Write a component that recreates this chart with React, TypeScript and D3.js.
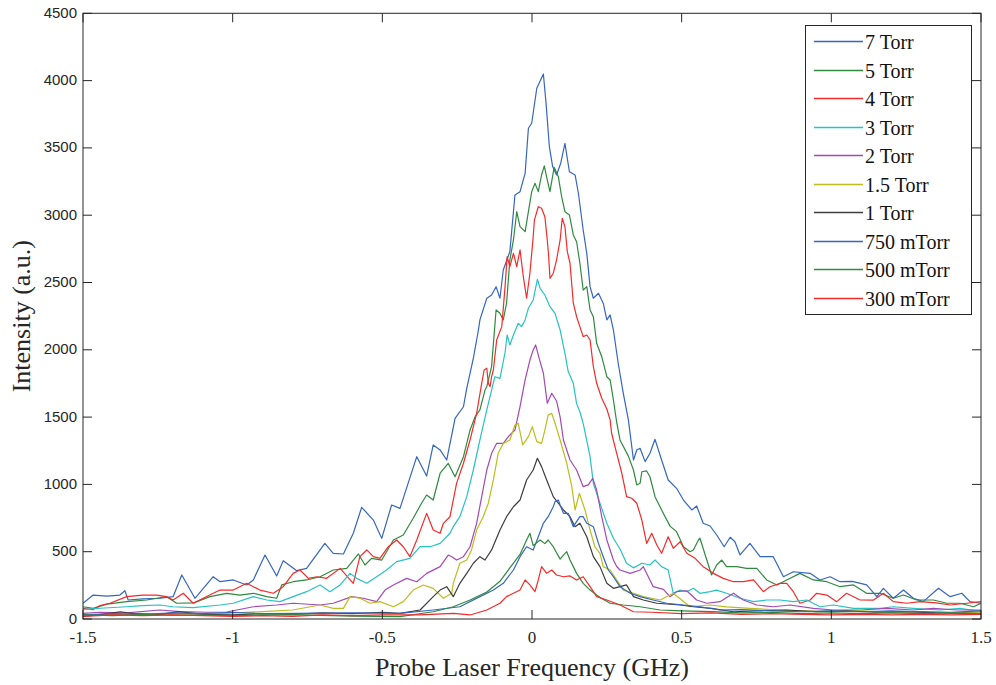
import React from "react";
import * as d3 from "d3";

type P = [number, number];

const xTicks = [-1.5, -1, -0.5, 0, 0.5, 1, 1.5];
const xTickLabels = ["-1.5", "-1", "-0.5", "0", "0.5", "1", "1.5"];
const yTicks = [0, 500, 1000, 1500, 2000, 2500, 3000, 3500, 4000, 4500];

const seriesNames = ["7 Torr", "5 Torr", "4 Torr", "3 Torr", "2 Torr", "1.5 Torr", "1 Torr", "750 mTorr", "500 mTorr", "300 mTorr"];
const seriesColors = ["#3566c0", "#2f8a3f", "#f52a2a", "#27c2c2", "#a349b5", "#bdbd1c", "#3d3d3d", "#3566c0", "#2f8a3f", "#f52a2a"];

const torr7: P[] = [[-1.5,117],[-1.466,178],[-1.42,170],[-1.377,178],[-1.36,210],[-1.349,141],[-1.3,150],[-1.243,154],[-1.199,166],[-1.17,327],[-1.126,154],[-1.065,314],[-1.042,277],[-0.998,290],[-0.953,253],[-0.931,290],[-0.892,475],[-0.853,320],[-0.831,433],[-0.786,359],[-0.753,376],[-0.692,562],[-0.664,488],[-0.63,483],[-0.597,637],[-0.569,830],[-0.53,735],[-0.502,599],[-0.469,847],[-0.441,822],[-0.385,1206],[-0.352,1062],[-0.33,1293],[-0.307,1256],[-0.285,1181],[-0.257,1491],[-0.229,1577],[-0.218,1714],[-0.196,1937],[-0.179,2147],[-0.174,2222],[-0.151,2383],[-0.135,2407],[-0.12,2469],[-0.107,2383],[-0.096,2593],[-0.074,2729],[-0.057,3150],[-0.04,3175],[-0.023,3311],[-0.012,3646],[-0.001,3683],[0.016,3943],[0.038,4049],[0.047,3831],[0.058,3509],[0.069,3361],[0.082,3299],[0.096,3386],[0.11,3534],[0.125,3323],[0.144,3299],[0.155,3163],[0.171,2890],[0.183,2717],[0.194,2469],[0.205,2383],[0.222,2420],[0.238,2346],[0.25,2222],[0.261,2259],[0.272,2147],[0.288,1900],[0.305,1677],[0.322,1479],[0.339,1181],[0.35,1256],[0.361,1268],[0.378,1169],[0.394,1231],[0.411,1335],[0.433,1181],[0.455,1033],[0.483,971],[0.506,884],[0.534,810],[0.55,840],[0.572,711],[0.595,691],[0.617,624],[0.642,537],[0.662,607],[0.678,574],[0.695,476],[0.728,562],[0.762,463],[0.806,463],[0.84,314],[0.873,351],[0.929,339],[0.962,290],[0.996,314],[1.029,277],[1.07,280],[1.118,253],[1.152,166],[1.174,228],[1.207,154],[1.241,215],[1.274,154],[1.307,129],[1.358,228],[1.397,166],[1.436,191],[1.463,129],[1.5,117]];

const torr5: P[] = [[-1.5,91],[-1.466,79],[-1.42,110],[-1.354,129],[-1.287,141],[-1.221,166],[-1.187,117],[-1.13,120],[-1.076,166],[-1.02,191],[-0.976,178],[-0.931,191],[-0.886,166],[-0.853,154],[-0.836,253],[-0.798,277],[-0.753,290],[-0.708,314],[-0.664,364],[-0.619,376],[-0.58,483],[-0.558,401],[-0.536,451],[-0.502,438],[-0.463,587],[-0.43,624],[-0.397,748],[-0.369,860],[-0.352,921],[-0.33,884],[-0.307,1083],[-0.28,1157],[-0.257,1057],[-0.229,1206],[-0.207,1404],[-0.19,1503],[-0.174,1553],[-0.157,1701],[-0.151,1726],[-0.135,1875],[-0.12,2296],[-0.107,2271],[-0.096,2222],[-0.085,2346],[-0.074,2667],[-0.062,2816],[-0.051,3026],[-0.04,2915],[-0.023,2878],[-0.012,3026],[-0.001,3175],[0.01,3237],[0.021,3175],[0.032,3299],[0.041,3366],[0.051,3262],[0.06,3175],[0.074,3356],[0.088,3286],[0.099,3138],[0.11,3026],[0.125,3002],[0.138,2853],[0.149,2803],[0.16,2643],[0.171,2444],[0.183,2469],[0.194,2296],[0.205,2246],[0.216,2048],[0.233,1949],[0.25,1800],[0.261,1776],[0.272,1627],[0.283,1460],[0.294,1330],[0.322,1210],[0.339,1107],[0.35,996],[0.361,1008],[0.367,1094],[0.383,1100],[0.394,1057],[0.411,909],[0.433,810],[0.461,690],[0.483,649],[0.506,537],[0.528,500],[0.539,513],[0.556,587],[0.561,600],[0.584,438],[0.6,327],[0.617,401],[0.634,438],[0.65,389],[0.684,389],[0.717,376],[0.751,376],[0.784,290],[0.818,253],[0.851,290],[0.895,339],[0.94,290],[0.985,277],[1.029,240],[1.074,253],[1.118,191],[1.163,191],[1.207,154],[1.241,178],[1.285,141],[1.341,141],[1.386,117],[1.43,117],[1.475,91],[1.5,117]];

const torr4: P[] = [[-1.5,79],[-1.466,70],[-1.443,100],[-1.41,117],[-1.354,166],[-1.3,178],[-1.254,178],[-1.221,166],[-1.199,141],[-1.165,191],[-1.132,117],[-1.065,191],[-1.042,215],[-0.998,215],[-0.953,265],[-0.909,215],[-0.864,191],[-0.831,240],[-0.798,339],[-0.775,364],[-0.747,302],[-0.719,314],[-0.686,302],[-0.641,376],[-0.597,265],[-0.575,463],[-0.552,513],[-0.53,463],[-0.508,451],[-0.48,537],[-0.452,587],[-0.43,537],[-0.408,463],[-0.385,587],[-0.352,785],[-0.33,661],[-0.307,637],[-0.296,711],[-0.274,760],[-0.252,1008],[-0.229,1157],[-0.207,1330],[-0.185,1528],[-0.168,1751],[-0.16,1850],[-0.151,1863],[-0.146,1751],[-0.14,1726],[-0.135,1800],[-0.129,1850],[-0.118,2073],[-0.101,2172],[-0.09,2469],[-0.083,2692],[-0.074,2618],[-0.062,2717],[-0.051,2618],[-0.04,2742],[-0.029,2543],[-0.018,2383],[-0.007,2569],[0.004,2840],[0.008,2964],[0.021,3063],[0.032,3051],[0.043,2989],[0.051,2816],[0.055,2717],[0.06,2531],[0.071,2569],[0.082,2667],[0.094,2816],[0.101,2977],[0.11,2915],[0.118,2729],[0.127,2643],[0.138,2346],[0.149,2246],[0.16,2172],[0.171,2098],[0.183,2110],[0.194,2073],[0.205,1875],[0.216,1751],[0.233,1640],[0.25,1560],[0.261,1479],[0.266,1380],[0.283,1231],[0.3,1083],[0.316,909],[0.333,897],[0.35,860],[0.367,735],[0.383,562],[0.4,637],[0.417,550],[0.433,488],[0.455,611],[0.472,525],[0.495,574],[0.517,488],[0.545,451],[0.572,389],[0.606,339],[0.639,302],[0.673,277],[0.706,277],[0.74,290],[0.773,203],[0.795,240],[0.829,265],[0.851,265],[0.873,203],[0.895,117],[0.929,141],[0.951,191],[0.985,178],[1.018,129],[1.051,191],[1.096,141],[1.14,140],[1.174,191],[1.207,129],[1.252,117],[1.296,129],[1.35,120],[1.397,104],[1.452,117],[1.5,129]];

const torr3: P[] = [[-1.5,72],[-1.443,80],[-1.354,91],[-1.3,100],[-1.243,104],[-1.2,91],[-1.132,85],[-1.042,104],[-0.998,117],[-0.931,166],[-0.886,141],[-0.842,129],[-0.798,166],[-0.753,203],[-0.708,253],[-0.675,203],[-0.641,253],[-0.608,339],[-0.586,302],[-0.552,265],[-0.519,314],[-0.486,364],[-0.452,426],[-0.408,451],[-0.374,537],[-0.341,537],[-0.307,562],[-0.274,637],[-0.263,686],[-0.241,760],[-0.218,909],[-0.196,1107],[-0.174,1330],[-0.151,1553],[-0.135,1700],[-0.124,1800],[-0.107,1788],[-0.09,1980],[-0.083,2110],[-0.074,2036],[-0.062,2110],[-0.046,2197],[-0.035,2172],[-0.023,2222],[-0.012,2309],[0.004,2370],[0.018,2524],[0.027,2457],[0.043,2407],[0.06,2320],[0.077,2271],[0.094,2147],[0.11,1974],[0.121,1838],[0.138,1751],[0.149,1600],[0.16,1540],[0.171,1454],[0.194,1206],[0.205,1008],[0.227,860],[0.25,711],[0.272,600],[0.294,520],[0.316,414],[0.339,380],[0.367,414],[0.394,401],[0.411,438],[0.433,389],[0.455,364],[0.472,191],[0.495,215],[0.517,203],[0.539,228],[0.561,191],[0.595,203],[0.617,215],[0.65,191],[0.695,154],[0.74,129],[0.784,141],[0.829,141],[0.873,129],[0.918,141],[0.962,91],[1.007,104],[1.074,79],[1.163,79],[1.207,91],[1.274,79],[1.363,67],[1.43,79],[1.5,54]];

const torr2: P[] = [[-1.5,42],[-1.443,50],[-1.354,45],[-1.243,67],[-1.176,55],[-1.087,50],[-1.02,52],[-0.931,91],[-0.853,104],[-0.798,117],[-0.708,104],[-0.664,117],[-0.602,166],[-0.564,154],[-0.519,129],[-0.491,215],[-0.463,253],[-0.419,302],[-0.385,277],[-0.352,339],[-0.307,389],[-0.28,475],[-0.268,463],[-0.252,438],[-0.229,463],[-0.207,537],[-0.185,711],[-0.168,909],[-0.151,1107],[-0.135,1231],[-0.118,1305],[-0.096,1305],[-0.079,1355],[-0.057,1404],[-0.04,1577],[-0.023,1776],[-0.007,1924],[0.004,1999],[0.012,2036],[0.027,1912],[0.038,1826],[0.051,1603],[0.066,1677],[0.082,1620],[0.094,1500],[0.105,1330],[0.127,1181],[0.149,1107],[0.171,983],[0.188,996],[0.203,1045],[0.216,958],[0.233,760],[0.25,587],[0.272,438],[0.283,390],[0.294,364],[0.328,339],[0.361,364],[0.372,389],[0.405,240],[0.439,220],[0.461,166],[0.483,203],[0.517,210],[0.55,141],[0.584,117],[0.628,129],[0.673,191],[0.706,141],[0.751,104],[0.806,91],[0.862,104],[0.94,79],[1.007,67],[1.1,67],[1.185,79],[1.274,67],[1.341,79],[1.42,67],[1.5,67]];

const torr15: P[] = [[-1.5,30],[-1.4,35],[-1.3,40],[-1.2,38],[-1.02,42],[-0.9,55],[-0.8,67],[-0.708,104],[-0.664,79],[-0.63,79],[-0.608,166],[-0.575,154],[-0.541,117],[-0.508,129],[-0.463,91],[-0.43,129],[-0.397,215],[-0.363,253],[-0.33,228],[-0.296,154],[-0.268,191],[-0.263,265],[-0.241,414],[-0.218,438],[-0.202,513],[-0.185,661],[-0.163,760],[-0.146,860],[-0.129,1033],[-0.113,1231],[-0.096,1305],[-0.074,1330],[-0.057,1441],[-0.046,1454],[-0.031,1293],[-0.012,1355],[0.001,1429],[0.016,1318],[0.032,1305],[0.043,1404],[0.054,1516],[0.066,1528],[0.077,1454],[0.094,1330],[0.116,1157],[0.133,983],[0.144,810],[0.158,934],[0.177,810],[0.194,661],[0.21,537],[0.227,488],[0.238,389],[0.261,364],[0.283,290],[0.305,215],[0.339,191],[0.372,166],[0.428,141],[0.472,191],[0.528,91],[0.595,104],[0.65,90],[0.728,79],[0.8,70],[0.9,60],[1.0,55],[1.1,60],[1.2,50],[1.3,55],[1.4,45],[1.5,50]];

const torr1: P[] = [[-1.5,20],[-1.45,30],[-1.376,54],[-1.33,40],[-1.25,30],[-1.18,55],[-1.1,35],[-1.0,30],[-0.9,40],[-0.8,35],[-0.7,45],[-0.6,40],[-0.5,50],[-0.441,42],[-0.374,67],[-0.33,166],[-0.307,215],[-0.285,240],[-0.263,166],[-0.241,265],[-0.218,339],[-0.196,414],[-0.174,463],[-0.157,438],[-0.135,513],[-0.107,661],[-0.085,760],[-0.062,834],[-0.04,884],[-0.018,1033],[0.004,1107],[0.018,1194],[0.032,1132],[0.049,1033],[0.071,909],[0.088,860],[0.105,810],[0.127,760],[0.144,686],[0.16,711],[0.183,611],[0.205,463],[0.227,389],[0.25,265],[0.272,228],[0.294,240],[0.316,253],[0.339,166],[0.372,141],[0.417,117],[0.495,104],[0.539,91],[0.6,79],[0.673,54],[0.75,60],[0.85,67],[0.95,55],[1.05,60],[1.15,50],[1.25,55],[1.35,45],[1.5,40]];

const mtorr750: P[] = [[-1.5,30],[-1.4,40],[-1.3,35],[-1.2,45],[-1.1,40],[-1.0,50],[-0.9,40],[-0.775,42],[-0.6,45],[-0.441,42],[-0.33,67],[-0.241,91],[-0.174,166],[-0.129,215],[-0.096,265],[-0.062,364],[-0.04,463],[-0.018,537],[0.004,513],[0.021,611],[0.038,711],[0.054,760],[0.071,834],[0.077,872],[0.088,884],[0.094,847],[0.105,785],[0.121,785],[0.138,686],[0.16,760],[0.171,760],[0.183,711],[0.205,686],[0.222,562],[0.238,463],[0.255,364],[0.272,314],[0.294,240],[0.328,191],[0.361,166],[0.405,141],[0.45,117],[0.506,104],[0.561,91],[0.628,67],[0.7,70],[0.8,60],[0.9,54],[1.0,60],[1.1,54],[1.2,60],[1.3,54],[1.4,50],[1.5,60]];

const mtorr500: P[] = [[-1.5,30],[-1.4,25],[-1.3,35],[-1.2,28],[-1.1,30],[-1.0,25],[-0.9,30],[-0.775,30],[-0.6,22],[-0.441,17],[-0.33,54],[-0.263,91],[-0.207,141],[-0.151,200],[-0.107,280],[-0.074,380],[-0.04,480],[-0.018,587],[-0.007,637],[0.004,545],[0.027,587],[0.043,560],[0.054,587],[0.071,537],[0.094,445],[0.105,475],[0.116,500],[0.127,438],[0.138,389],[0.149,339],[0.171,265],[0.194,215],[0.227,160],[0.261,117],[0.305,104],[0.361,91],[0.428,67],[0.5,60],[0.6,55],[0.7,45],[0.8,50],[0.9,40],[1.0,45],[1.1,40],[1.2,45],[1.3,40],[1.4,45],[1.5,40]];

const mtorr300: P[] = [[-1.5,20],[-1.4,30],[-1.3,25],[-1.2,30],[-1.1,25],[-1.0,20],[-0.9,25],[-0.8,20],[-0.7,30],[-0.6,25],[-0.5,30],[-0.374,30],[-0.263,42],[-0.207,30],[-0.151,67],[-0.107,117],[-0.085,166],[-0.062,191],[-0.04,215],[-0.023,290],[-0.007,253],[0.01,203],[0.021,290],[0.032,389],[0.049,339],[0.066,364],[0.082,327],[0.105,314],[0.127,320],[0.149,290],[0.171,314],[0.194,240],[0.216,166],[0.25,141],[0.294,104],[0.339,54],[0.4,50],[0.5,40],[0.6,45],[0.7,35],[0.8,40],[0.9,35],[1.0,30],[1.1,35],[1.2,30],[1.3,35],[1.4,30],[1.5,35]];

const seriesData: P[][] = [torr7, torr5, torr4, torr3, torr2, torr15, torr1, mtorr750, mtorr500, mtorr300];

const W = 996;
const H = 685;
const plotLeft = 83;
const plotRight = 981;
const plotTop = 13.3;
const plotBottom = 619;
const tickLen = 9;
const axisColor = "#262626";
const serif = "'Liberation Serif', 'Times New Roman', serif";
const sans = "'Liberation Sans', Arial, sans-serif";

export default function App() {
  const x = d3.scaleLinear().domain([-1.5, 1.5]).range([plotLeft, plotRight]);
  const y = d3.scaleLinear().domain([0, 4500]).range([plotBottom, plotTop]);
  const line = d3
    .line<P>()
    .x((d) => x(d[0]))
    .y((d) => y(d[1]));

  const legX = 805.5;
  const legY = 25.5;
  const legW = 166;
  const legH = 289;
  const rowH = 28.5;

  return (
    <div style={{ position: "absolute", left: 0, top: 0 }}>
      <svg width={W} height={H} style={{ display: "block", background: "#fff" }}>
        <defs>
          <clipPath id="plotClip">
            <rect x={plotLeft} y={plotTop} width={plotRight - plotLeft} height={plotBottom - plotTop} />
          </clipPath>
        </defs>
        <rect x={0} y={0} width={W} height={H} fill="#fff" />
        <g clipPath="url(#plotClip)">
          {seriesData.map((s, i) => (
            <path key={i} d={line(s) || ""} fill="none" stroke={seriesColors[i]} strokeWidth={1.2} strokeLinejoin="round" />
          ))}
        </g>
        <rect x={plotLeft} y={plotTop} width={plotRight - plotLeft} height={plotBottom - plotTop} fill="none" stroke={axisColor} strokeWidth={1} />
        {xTicks.map((t, i) => (
          <g key={"xt" + i}>
            <line x1={x(t)} x2={x(t)} y1={plotBottom} y2={plotBottom - tickLen} stroke={axisColor} />
            <line x1={x(t)} x2={x(t)} y1={plotTop} y2={plotTop + tickLen} stroke={axisColor} />
            <text x={x(t)} y={643} textAnchor="middle" fontFamily={serif} fontSize={17} fill={axisColor}>
              {xTickLabels[i]}
            </text>
          </g>
        ))}
        {yTicks.map((t, i) => (
          <g key={"yt" + i}>
            <line x1={plotLeft} x2={plotLeft + tickLen} y1={y(t)} y2={y(t)} stroke={axisColor} />
            <line x1={plotRight} x2={plotRight - tickLen} y1={y(t)} y2={y(t)} stroke={axisColor} />
            <text x={77} y={y(t)} dy="0.3em" textAnchor="end" fontFamily={sans} fontSize={15} fill={axisColor}>
              {t}
            </text>
          </g>
        ))}
        <text x={(plotLeft + plotRight) / 2} y={676} textAnchor="middle" fontFamily={serif} fontSize={26} fill={axisColor}>
          Probe Laser Frequency (GHz)
        </text>
        <text transform={`translate(30, ${(plotTop + plotBottom) / 2}) rotate(-90)`} textAnchor="middle" fontFamily={serif} fontSize={26} fill={axisColor}>
          Intensity (a.u.)
        </text>
        <rect x={legX} y={legY} width={legW} height={legH} fill="#fff" stroke={axisColor} strokeWidth={1} />
        {seriesNames.map((n, i) => {
          const ly = Math.round(41 + i * rowH) + 0.5;
          return (
            <g key={"lg" + i}>
              <line x1={814} x2={863} y1={ly} y2={ly} stroke={seriesColors[i]} strokeWidth={1.3} />
              <text x={865} y={ly} dy="0.35em" fontFamily={serif} fontSize={20} fill="#111">
                {n}
              </text>
            </g>
          );
        })}
      </svg>
    </div>
  );
}
